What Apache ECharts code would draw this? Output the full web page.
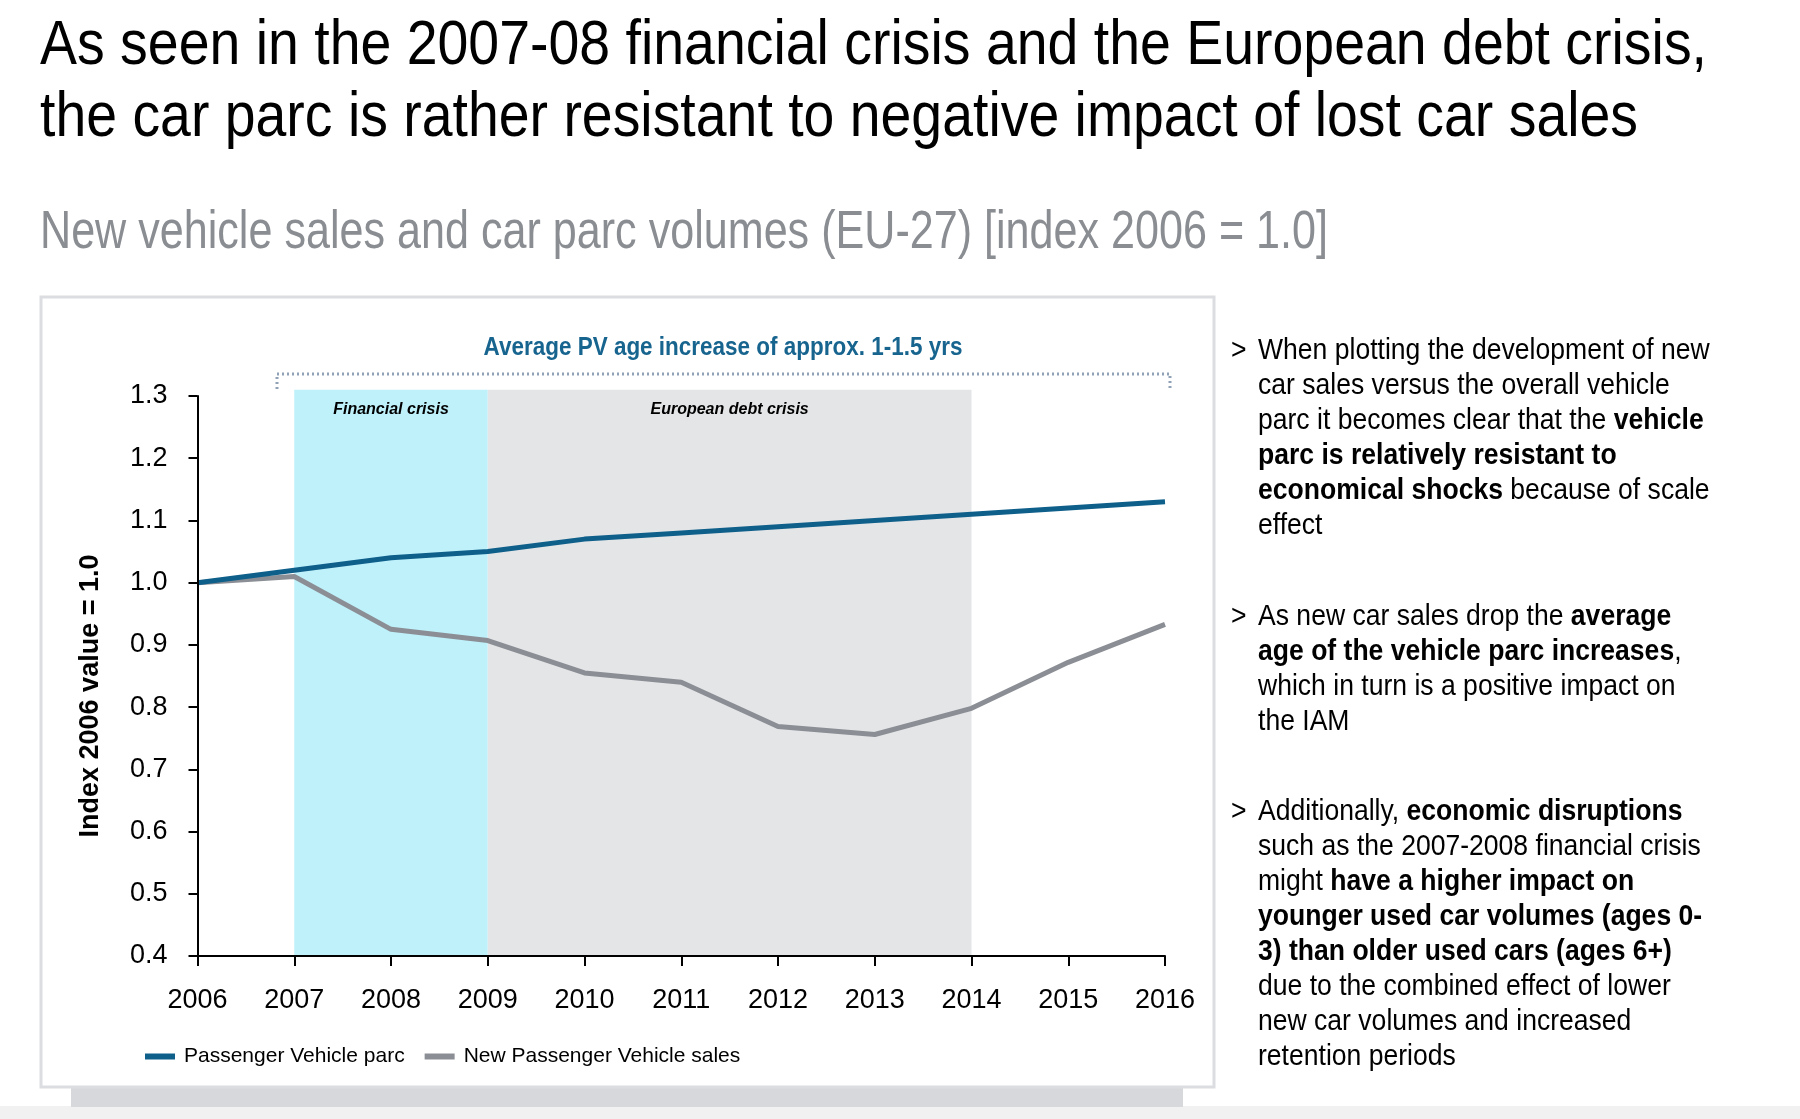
<!DOCTYPE html>
<html>
<head>
<meta charset="utf-8">
<title>Car parc vs new vehicle sales</title>
<script src="https://cdn.jsdelivr.net/npm/echarts@6/dist/echarts.min.js"></script>
<style>
  html, body { margin: 0; padding: 0; background: #ffffff; }
  #myChart { width: 1800px; height: 1119px; }
</style>
</head>
<body>
<div id="myChart"></div>
<script>
// data
const years = ['2006', '2007', '2008', '2009', '2010', '2011', '2012', '2013', '2014', '2015', '2016'];
const parcValues = [1.00, 1.02, 1.04, 1.05, 1.07, 1.08, 1.09, 1.10, 1.11, 1.12, 1.13];
const salesValues = [1.00, 1.01, 0.925, 0.907, 0.855, 0.84, 0.769, 0.756, 0.798, 0.872, 0.933];
const seriesNames = ['Passenger Vehicle parc', 'New Passenger Vehicle sales'];
const yMin = 0.4;
const yMax = 1.3;
const yStep = 0.1;
const bandTop = 1.31;
const crisisBands = [
  { from: '2007', to: '2009', label: 'Financial crisis' },
  { from: '2009', to: '2014', label: 'European debt crisis' }
];

const titleLines = [
  'As seen in the 2007-08 financial crisis and the European debt crisis,',
  'the car parc is rather resistant to negative impact of lost car sales'
];
const subtitle = 'New vehicle sales and car parc volumes (EU-27) [index 2006 = 1.0]';
const ageNote = 'Average PV age increase of approx. 1-1.5 yrs';
const yName = 'Index 2006 value = 1.0';

// bullets: each line is a list of [text, bold]
const bullets = [
  [
    [['When plotting the development of new', 0]],
    [['car sales versus the overall vehicle', 0]],
    [['parc it becomes clear that the ', 0], ['vehicle', 1]],
    [['parc is relatively resistant to', 1]],
    [['economical shocks', 1], [' because of scale', 0]],
    [['effect', 0]]
  ],
  [
    [['As new car sales drop the ', 0], ['average', 1]],
    [['age of the vehicle parc increases', 1], [',', 0]],
    [['which in turn is a positive impact on', 0]],
    [['the IAM', 0]]
  ],
  [
    [['Additionally, ', 0], ['economic disruptions', 1]],
    [['such as the 2007-2008 financial crisis', 0]],
    [['might ', 0], ['have a higher impact on', 1]],
    [['younger used car volumes (ages 0-', 1]],
    [['3) than older used cars (ages 6+)', 1]],
    [['due to the combined effect of lower', 0]],
    [['new car volumes and increased', 0]],
    [['retention periods', 0]]
  ]
];
const bulletTops = [351, 617, 812];

const FONT = "'Liberation Sans', Arial, sans-serif";

// the reference uses a condensed face; squeeze regular text to the widths seen there
let measureCtx = document.createElement('canvas').getContext('2d');
function squeeze(text, font, targetWidth) {
  measureCtx.font = font;
  return targetWidth / measureCtx.measureText(text).width;
}

function richText(lines) {
  return lines.map(function (line) {
    return line.map(function (seg) {
      return '{' + (seg[1] ? 'b' : 'n') + '|' + seg[0] + '}';
    }).join('');
  }).join('\n');
}

let el = document.getElementById('myChart');
let myChart = echarts.init(el, null, { renderer: 'canvas' });

const titleFont = '63px ' + FONT;
const subFont = '53px ' + FONT;
const noteFont = 'bold 26px ' + FONT;
const bulletScale = 0.885;

let graphics = [
  // page bottom strip
  { type: 'rect', z: -10, shape: { x: 0, y: 1106, width: 1800, height: 13 }, style: { fill: '#f1f1f1' } },
  // chart card shadow and card
  { type: 'rect', z: -9, shape: { x: 71, y: 1086, width: 1112, height: 21 }, style: { fill: '#d7d8db' } },
  { type: 'rect', z: -8, shape: { x: 41, y: 297, width: 1173, height: 790 }, style: { fill: '#ffffff', stroke: '#dcdde0', lineWidth: 3 } },
  // headline
  { type: 'text', x: 40, y: 47, scaleX: squeeze(titleLines[0], titleFont, 1667),
    style: { text: titleLines[0], font: titleFont, fill: '#000', verticalAlign: 'middle' } },
  { type: 'text', x: 40, y: 119, scaleX: squeeze(titleLines[1], titleFont, 1598),
    style: { text: titleLines[1], font: titleFont, fill: '#000', verticalAlign: 'middle' } },
  { type: 'text', x: 40, y: 233, scaleX: squeeze(subtitle, subFont, 1288),
    style: { text: subtitle, font: subFont, fill: '#8a8d92', verticalAlign: 'middle' } },
  // note over the chart
  { type: 'text', x: 723, y: 348, scaleX: squeeze(ageNote, noteFont, 479),
    style: { text: ageNote, font: noteFont, fill: '#17648f', align: 'center', verticalAlign: 'middle' } },
  { type: 'polyline', shape: { points: [[277, 389], [277, 374], [1170, 374], [1170, 389]] },
    style: { stroke: '#8fa2b6', lineWidth: 3, lineDash: [2, 3], fill: null } }
];

bullets.forEach(function (lines, i) {
  graphics.push({ type: 'text', x: 1231, y: bulletTops[i], scaleX: bulletScale,
    style: { text: '>', font: '30px ' + FONT, fill: '#000', verticalAlign: 'middle' } });
  graphics.push({
    type: 'text',
    x: 1258,
    y: bulletTops[i] - 17.5,
    scaleX: bulletScale,
    style: {
      text: richText(lines),
      verticalAlign: 'top',
      fill: '#000',
      font: '30px ' + FONT,
      lineHeight: 35,
      rich: {
        n: { fontFamily: FONT, fontSize: 30, fontWeight: 'normal', lineHeight: 35, fill: '#000' },
        b: { fontFamily: FONT, fontSize: 30, fontWeight: 'bold', lineHeight: 35, fill: '#000' }
      }
    }
  });
});

const gridBox = { left: 197.5, right: 635, top: 396, bottom: 163 };
// second, hidden grid for the crisis bands so they can reach a little above 1.3
const bandGridTop = gridBox.top - (bandTop - yMax) / (yMax - yMin) * (1119 - gridBox.top - gridBox.bottom);

let option = {
  animation: false,
  backgroundColor: 'transparent',
  textStyle: { fontFamily: FONT },
  grid: [
    { left: gridBox.left, right: gridBox.right, top: gridBox.top, bottom: gridBox.bottom, containLabel: false },
    { left: gridBox.left, right: gridBox.right, top: bandGridTop, bottom: gridBox.bottom, containLabel: false }
  ],
  legend: {
    data: seriesNames,
    left: 140,
    top: 1041,
    icon: 'rect',
    itemWidth: 30,
    itemHeight: 6,
    itemGap: 20,
    textStyle: { fontFamily: FONT, fontSize: 21, color: '#000', padding: [0, 0, 0, 4] }
  },
  xAxis: [
    {
      type: 'category',
      gridIndex: 0,
      data: years,
      boundaryGap: false,
      z: 5,
      axisLine: { lineStyle: { color: '#000', width: 2 } },
      axisTick: { length: 10, lineStyle: { color: '#000', width: 2 } },
      axisLabel: { margin: 31, fontFamily: FONT, fontSize: 27, color: '#000' },
      splitLine: { show: false }
    },
    { type: 'category', gridIndex: 1, data: years, boundaryGap: false, show: false }
  ],
  yAxis: [
    {
      type: 'value',
      gridIndex: 0,
      min: yMin,
      max: yMax,
      interval: yStep,
      name: yName,
      nameLocation: 'middle',
      nameGap: 93,
      z: 5,
      nameTextStyle: { fontFamily: FONT, fontSize: 27, fontWeight: 'bold', color: '#000', padding: [0, 40, 0, 0] },
      axisLine: { show: true, lineStyle: { color: '#000', width: 2 } },
      axisTick: { show: true, length: 9, lineStyle: { color: '#000', width: 2 } },
      axisLabel: { margin: 30, fontFamily: FONT, fontSize: 27, color: '#000', formatter: function (v) { return v.toFixed(1); } },
      splitLine: { show: false }
    },
    { type: 'value', gridIndex: 1, min: yMin, max: bandTop, show: false, splitLine: { show: false } }
  ],
  graphic: graphics,
  series: [
    {
      name: 'bands',
      type: 'line',
      xAxisIndex: 1,
      yAxisIndex: 1,
      data: [],
      z: 1,
      silent: true,
      markArea: {
        silent: true,
        label: { position: 'insideTop', distance: 12, fontFamily: FONT, fontSize: 16, fontWeight: 'bold', fontStyle: 'italic', color: '#000' },
        data: crisisBands.map(function (b, i) {
          return [
            { name: b.label, xAxis: b.from, yAxis: yMin, itemStyle: { color: i === 0 ? '#bff1fb' : '#e4e5e7' } },
            { xAxis: b.to, yAxis: bandTop }
          ];
        })
      }
    },
    {
      name: seriesNames[1],
      type: 'line',
      data: salesValues,
      z: 3,
      symbol: 'none',
      color: '#8b8f95',
      lineStyle: { width: 5, color: '#8b8f95' }
    },
    {
      name: seriesNames[0],
      type: 'line',
      data: parcValues,
      z: 4,
      symbol: 'none',
      color: '#0f5f8b',
      lineStyle: { width: 5, color: '#0f5f8b' }
    }
  ]
};
myChart.setOption(option);
</script>
</body>
</html>
